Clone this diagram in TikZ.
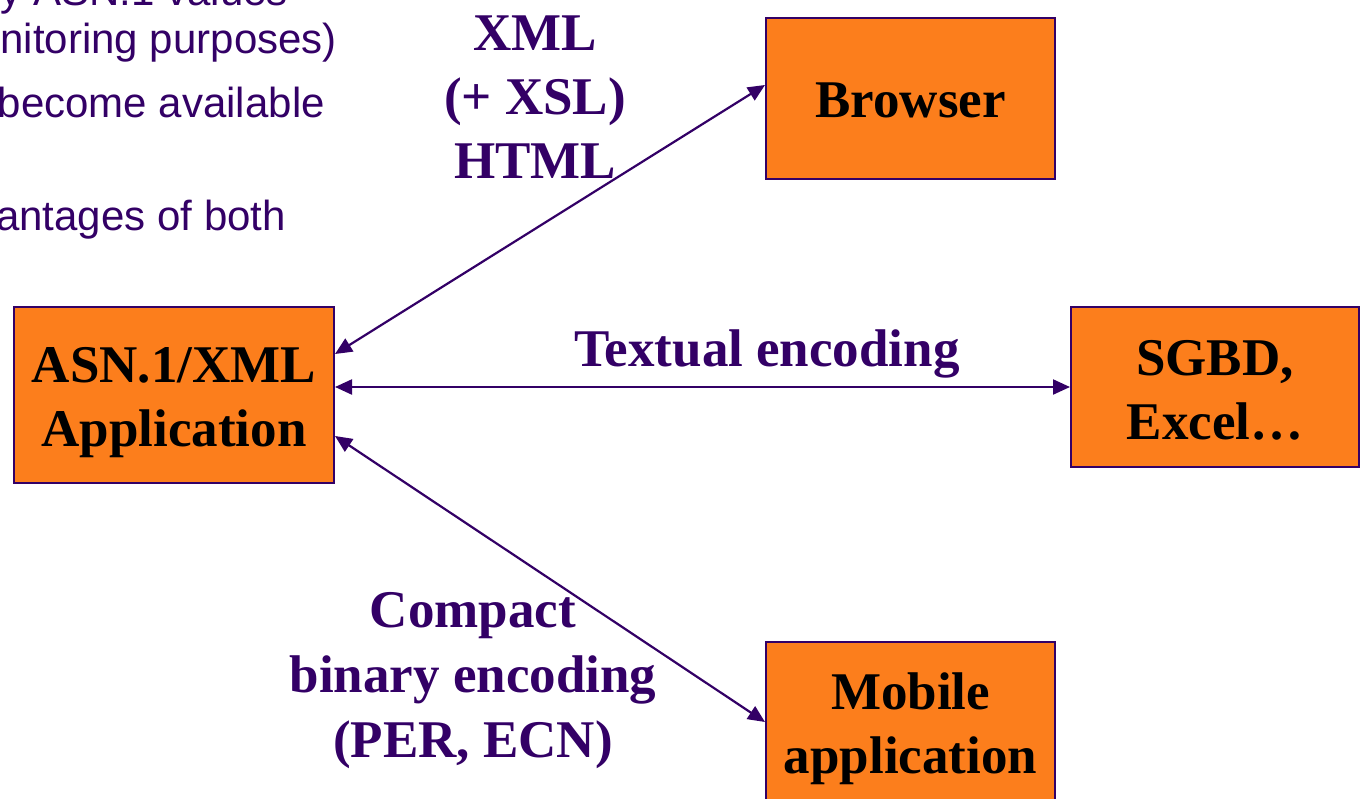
\documentclass[tikz,border=0pt]{standalone}
\usepackage{fontspec}
\setmainfont{Liberation Serif}
\newfontfamily\slidesans{Liberation Sans}
\usetikzlibrary{arrows.meta}
\definecolor{ink}{HTML}{330066}
\definecolor{boxfill}{HTML}{FC7E1C}
\tikzset{
  blockbox/.style={draw=ink, line width=2pt, fill=boxfill, inner sep=0pt},
  blocktext/.style={align=center, text=black, inner sep=0pt,
    font=\fontsize{53}{64}\selectfont\bfseries},
  linklabel/.style={align=center, text=ink, inner sep=0pt,
    font=\fontsize{53}{64}\selectfont\bfseries},
  bodytext/.style={anchor=base east, text=ink, inner sep=0pt,
    font=\slidesans\fontsize{42}{50}\selectfont},
  link/.style={draw=ink, line width=2.2pt,
    {Triangle[length=17pt,width=15pt]}-{Triangle[length=17pt,width=15pt]}}
}
\begin{document}
\begin{tikzpicture}[x=1pt,y=-1pt]
\useasboundingbox (0,0) rectangle (1360,798);
\clip (0,0) rectangle (1360,798);

% bullet text running off the left edge
\node[bodytext] (t1) at (288,5) {y ASN.1 values};
\node[bodytext] (t2) at (337,53) {nitoring purposes)};
\node[bodytext] (t3) at (325,117) {become available};
\node[bodytext] (t4) at (286,230) {antages of both};

% blocks
\node[blockbox, minimum width=320pt, minimum height=176pt] (asn) at (174,395) {};
\node[blockbox, minimum width=289pt, minimum height=161pt] (browser) at (910.5,98.5) {};
\node[blockbox, minimum width=288pt, minimum height=160pt] (sgbd) at (1215,387) {};
\node[blockbox, minimum width=289pt, minimum height=166pt] (mobile) at (910.5,725) {};

% block captions
\node[blocktext] (asntext) at ([yshift=-8pt]asn.center) {ASN.1/XML\\Application};
\node[blocktext] (browsertext) at ([yshift=-2pt]browser.center) {Browser};
\node[blocktext] (sgbdtext) at ([yshift=-3pt]sgbd.center) {SGBD,\\Excel…};
\node[blocktext] (mobiletext) at ([yshift=-4pt]mobile.center) {Mobile\\application};

% connectors
\draw[link] ([yshift=41pt]asn.east) -- ([yshift=13.5pt]browser.west);
\draw[link] ([yshift=8pt]asn.east) -- ([yshift=0pt]sgbd.west);
\draw[link] ([yshift=-41pt]asn.east) -- ([yshift=3pt]mobile.west);

% connector labels
\node[linklabel] (lweb) at (535,97) {XML\\(+ XSL)\\HTML};
\node[linklabel] (ltext) at (767,354) {Textual encoding};
\node[linklabel, font=\fontsize{53}{65}\selectfont\bfseries] (lbin) at (473,681) {Compact\\binary encoding\\(PER, ECN)};
\end{tikzpicture}
\end{document}
